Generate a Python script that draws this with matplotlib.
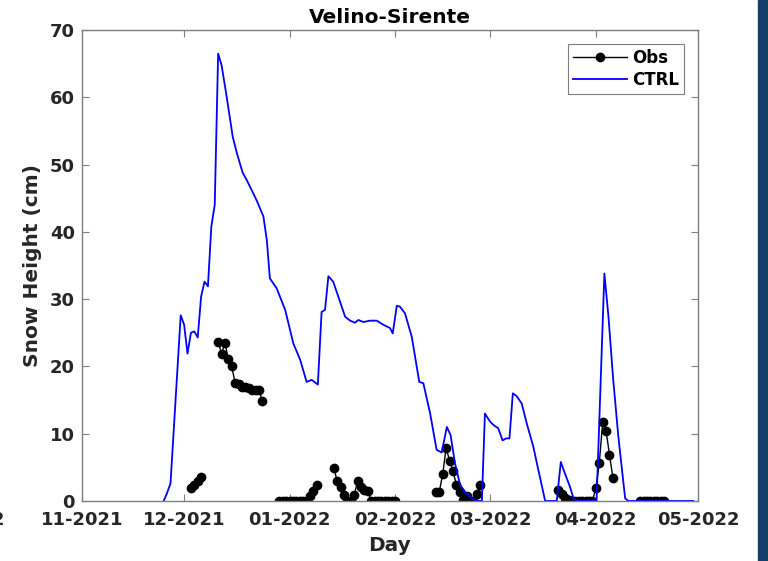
import numpy as np
import pandas as pd
import matplotlib
matplotlib.use('Agg')
import matplotlib.pyplot as plt
import matplotlib.dates as mdates
from matplotlib.patches import Rectangle

# Dager etter 1. november 2021 og snødybde (cm), lest av figuren
START = pd.Timestamp('2021-11-01')

ctrl_dag = [24, 25, 26, 29, 30, 31, 32, 33, 34, 35, 36, 37, 38, 39, 40, 41,
            42.5, 44.3, 45.5, 47.2, 48.4, 51.3, 53.3, 54.3, 55.2, 57.2, 59.7,
            62.1, 64.1, 66, 67.5, 69.3, 70.4, 71.4, 72.4, 73.8, 75.3, 77.3,
            78.8, 80.2, 81.2, 82.7, 84.6, 86.6, 88.5, 90.5, 91.3, 92.5, 93.4,
            94.9, 96.9, 99.1, 100.3, 102.3, 104.2, 105.7, 107.2, 108.3, 109.6,
            111.1, 112.5, 114, 115.5, 117.5, 118.4, 119.9, 120.9, 122.3, 123.6,
            124.6, 125.6, 126.6, 127.7, 129.2, 130.7, 132.6, 134.1, 136.1,
            139.5, 140.7, 141.9, 143.4, 144.4, 145.4, 151.2, 153.5, 154.7,
            156.1, 157.6, 159.6, 160.5, 179.6]
ctrl_snø = [0, 1.2, 2.6, 27.6, 26.2, 21.9, 25.0, 25.2, 24.3, 30.4, 32.6,
            31.9, 40.8, 44.0, 66.5, 64.8, 60.1, 54.1, 51.7, 48.8, 47.7, 44.7,
            42.3, 38.8, 33.1, 31.6, 28.4, 23.4, 21.0, 17.7, 18.0, 17.3, 28.1,
            28.4, 33.4, 32.6, 30.4, 27.4, 26.8, 26.5, 26.9, 26.6, 26.8, 26.8,
            26.2, 25.7, 24.9, 29.0, 28.9, 27.9, 24.4, 17.7, 17.5, 13.0, 7.6,
            7.2, 11.0, 9.8, 5.6, 2.4, 1.4, 0.6, 0.1, 0, 13.0, 11.8, 11.3, 10.8,
            9.0, 9.3, 9.3, 16.0, 15.6, 14.5, 11.5, 8.1, 4.6, 0, 0, 5.8, 4.1,
            2.1, 0.4, 0, 0, 33.8, 27.4, 18.0, 9.6, 0.4, 0, 0]

nan = np.nan
obs_dag = [32, 33, 34, 35, nan,
           40, 41, 42, 43, 44, 45, 46, 47, 48, 49, 50, 51, 52, 53, nan,
           58, 59, 60, 61, 62, 63, 64, 65, 66, 67, 68, 69, nan,
           74, 75, 76, 77, 78, 79, 80, 81, 82, 83, 84, 85, 86, 87, 88, 89, 90,
           91, 92, nan,
           104, 105, 106, 107, 108, 109, 110, 111, 112, 113, 114, 115, 116,
           117, nan,
           140, 141, 142, 143, 144, 145, 146, 147, 148, 149, 150, 151, 152,
           153, 154, 155, 156, nan,
           164, 165, 166, 167, 168, 169, 170, 171]
obs_snø = [1.9, 2.4, 2.9, 3.5, nan,
           23.7, 21.9, 23.5, 21.1, 20.0, 17.5, 17.4, 17.0, 16.9, 16.8, 16.5,
           16.5, 16.5, 14.9, nan,
           0, 0, 0, 0, 0, 0, 0, 0, 0, 0.8, 1.5, 2.4, nan,
           4.9, 2.9, 2.1, 0.9, 0, 0, 0.9, 3.0, 2.1, 1.7, 1.5, 0, 0, 0, 0, 0, 0,
           0, 0, nan,
           1.4, 1.4, 4.0, 7.9, 6.0, 4.5, 2.4, 1.4, 0.1, 0.8, 0, 0, 1.1, 2.4,
           nan,
           1.6, 1.0, 0.5, 0.1, 0, 0, 0, 0, 0, 0, 0, 1.9, 5.6, 11.7, 10.4, 6.9,
           3.4, nan,
           0, 0, 0, 0, 0, 0, 0, 0]


def til_dato(dager):
    return START + pd.to_timedelta(np.array(dager, dtype=float), unit='D')


plt.rcParams['font.family'] = 'DejaVu Sans'
plt.rcParams['font.weight'] = 'bold'

fig = plt.figure(figsize=(7.68, 5.61), dpi=100)
ax = fig.add_axes([0.1068, 0.107, 0.802, 0.8395])

ax.plot(til_dato(obs_dag), obs_snø, '-o', color='black', lw=1.0,
        markersize=6, label='Obs')
ax.plot(til_dato(ctrl_dag), ctrl_snø, color='blue', lw=1.3, label='CTRL')

ax.set_xlim(pd.Timestamp('2021-11-01'), pd.Timestamp('2022-05-01'))
ax.set_ylim(0, 70)
ax.set_yticks(np.arange(0, 71, 10))
ax.xaxis.set_major_locator(mdates.MonthLocator())
ax.xaxis.set_major_formatter(mdates.DateFormatter('%m-%Y'))

grå = '#7f7f7f'
for s in ax.spines.values():
    s.set_color(grå)
    s.set_linewidth(1.0)
ax.tick_params(direction='in', top=True, right=True, length=5, width=0.8,
               color=grå, labelcolor='#262626', labelsize=13)
ax.tick_params(axis='x', pad=7)
ax.tick_params(axis='y', pad=5)

ax.set_title('Velino-Sirente', fontsize=14.5, fontweight='bold', pad=5)
ax.set_xlabel('Day', fontsize=14.5, fontweight='bold', color='#262626',
              labelpad=5)
ax.set_ylabel('Snow Height (cm)', fontsize=14.5, fontweight='bold',
              color='#262626', labelpad=6)

leg = ax.legend(loc='upper right', fontsize=12, handlelength=3.2,
                borderaxespad=0.85, fancybox=False, framealpha=1,
                edgecolor=grå, borderpad=0.3, labelspacing=0.2,
                handletextpad=0.3)
leg.get_frame().set_linewidth(0.8)

# mørkeblå stripe til høyre og avkuttet tegn til venstre
fig.patches.append(Rectangle((0.987, 0), 0.013, 1, transform=fig.transFigure,
                             color='#143d6b', zorder=0))
fig.text(-0.011, 0.073, '2', fontsize=13, fontweight='bold', color='#262626',
         va='center', ha='left')

plt.savefig('out.png', dpi=100)
